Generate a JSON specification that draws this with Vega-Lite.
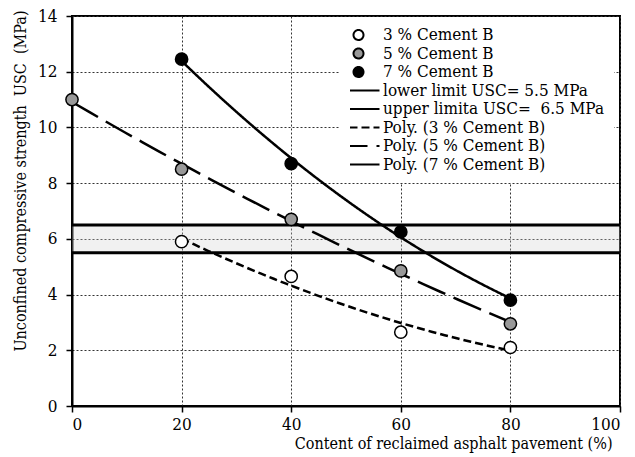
{
  "$schema": "https://vega.github.io/schema/vega-lite/v6.json",
  "width": 548,
  "height": 390,
  "autosize": {"type": "none"},
  "padding": {"left": 72, "top": 16, "right": 15, "bottom": 51},
  "background": "white",
  "datasets": {
    "pts": [
      {"x": 20, "y": 5.9, "s": "3 % Cement B", "trend": "Poly. (3 % Cement B)"},
      {"x": 40, "y": 4.65, "s": "3 % Cement B", "trend": "Poly. (3 % Cement B)"},
      {"x": 60, "y": 2.65, "s": "3 % Cement B", "trend": "Poly. (3 % Cement B)"},
      {"x": 80, "y": 2.1, "s": "3 % Cement B", "trend": "Poly. (3 % Cement B)"},
      {"x": 0, "y": 11.0, "s": "5 % Cement B", "trend": "Poly. (5 % Cement B)"},
      {"x": 20, "y": 8.5, "s": "5 % Cement B", "trend": "Poly. (5 % Cement B)"},
      {"x": 40, "y": 6.7, "s": "5 % Cement B", "trend": "Poly. (5 % Cement B)"},
      {"x": 60, "y": 4.85, "s": "5 % Cement B", "trend": "Poly. (5 % Cement B)"},
      {"x": 80, "y": 2.95, "s": "5 % Cement B", "trend": "Poly. (5 % Cement B)"},
      {"x": 20, "y": 12.45, "s": "7 % Cement B", "trend": "Poly. (7 % Cement B)"},
      {"x": 40, "y": 8.7, "s": "7 % Cement B", "trend": "Poly. (7 % Cement B)"},
      {"x": 60, "y": 6.25, "s": "7 % Cement B", "trend": "Poly. (7 % Cement B)"},
      {"x": 80, "y": 3.8, "s": "7 % Cement B", "trend": "Poly. (7 % Cement B)"}
    ],
    "limits": [
      {"v": 5.5, "s": "lower limit USC= 5.5 MPa"},
      {"v": 6.5, "s": "upper limita USC=\u00a0 6.5 MPa"}
    ],
    "band": [
      {"x0": 0, "x1": 100, "lo": 5.5, "hi": 6.5}
    ]
  },
  "layer": [
    {
      "data": {"name": "band"},
      "mark": {"type": "rect", "fill": "#d0d0d0", "fillOpacity": 0.3},
      "encoding": {
        "x": {"field": "x0", "type": "quantitative"},
        "x2": {"field": "x1"},
        "y": {"field": "lo", "type": "quantitative"},
        "y2": {"field": "hi"}
      }
    },
    {
      "data": {"name": "limits"},
      "mark": {"type": "rule", "color": "black", "strokeWidth": 3},
      "encoding": {
        "y": {"field": "v", "type": "quantitative"},
        "strokeDash": {"field": "s", "type": "nominal"}
      }
    },
    {
      "data": {"name": "pts"},
      "transform": [
        {"regression": "y", "on": "x", "groupby": ["trend"], "method": "poly", "order": 2}
      ],
      "mark": {"type": "line", "color": "black", "strokeWidth": 2.5},
      "encoding": {
        "x": {"field": "x", "type": "quantitative"},
        "y": {"field": "y", "type": "quantitative"},
        "detail": {"field": "trend"},
        "strokeDash": {"field": "trend", "type": "nominal"}
      }
    },
    {
      "data": {"name": "pts"},
      "mark": {"type": "point", "filled": true, "stroke": "black", "strokeWidth": 1.5, "size": 150, "opacity": 1},
      "encoding": {
        "x": {"field": "x", "type": "quantitative"},
        "y": {"field": "y", "type": "quantitative"},
        "shape": {
          "field": "s", "type": "nominal",
          "legend": {"title": null, "encode": {"symbols": {"update": {"stroke": {"value": "black"}, "strokeWidth": {"value": 2}, "opacity": {"value": 1}}}}},
          "scale": {
            "domain": ["3 % Cement B", "5 % Cement B", "7 % Cement B", "lower limit USC= 5.5 MPa", "upper limita USC=\u00a0 6.5 MPa", "Poly. (3 % Cement B)", "Poly. (5 % Cement B)", "Poly. (7 % Cement B)"],
            "range": ["circle", "circle", "circle", "M-4.2,0H4.2", "M-4.2,0H4.2", "M-4.2,0H4.2", "M-4.2,0H4.2", "M-4.2,0H4.2"]
          }
        },
        "fill": {
          "field": "s", "type": "nominal",
          "legend": {"title": null, "encode": {"symbols": {"update": {"stroke": {"value": "black"}, "strokeWidth": {"value": 2}, "opacity": {"value": 1}}}}},
          "scale": {
            "domain": ["3 % Cement B", "5 % Cement B", "7 % Cement B", "lower limit USC= 5.5 MPa", "upper limita USC=\u00a0 6.5 MPa", "Poly. (3 % Cement B)", "Poly. (5 % Cement B)", "Poly. (7 % Cement B)"],
            "range": ["white", "#999999", "black", "transparent", "transparent", "transparent", "transparent", "transparent"]
          }
        }
      }
    }
  ],
  "encoding": {
    "x": {
      "type": "quantitative",
      "scale": {"domain": [0, 100], "nice": false},
      "axis": {"values": [0, 20, 40, 60, 80, 100], "title": "Content of reclaimed asphalt pavement (%)", "titleAnchor": "end", "titleX": 540, "labelPadding": 4, "titlePadding": 3, "titleFontSize": 16}
    },
    "y": {
      "type": "quantitative",
      "scale": {"domain": [0, 14], "nice": false},
      "axis": {"values": [0, 2, 4, 6, 8, 10, 12, 14], "title": "Unconfined compressive strength\u00a0 USC\u00a0 (MPa)", "titleAnchor": "end", "titleY": -6, "labelPadding": 9, "titlePadding": 9, "titleFontSize": 16}
    },
    "strokeDash": {
      "legend": {"title": null, "encode": {"symbols": {"update": {"stroke": {"value": "black"}, "strokeWidth": {"value": 2}, "opacity": {"value": 1}}}}},
      "scale": {
        "domain": ["3 % Cement B", "5 % Cement B", "7 % Cement B", "lower limit USC= 5.5 MPa", "upper limita USC=\u00a0 6.5 MPa", "Poly. (3 % Cement B)", "Poly. (5 % Cement B)", "Poly. (7 % Cement B)"],
        "range": [[1, 0], [1, 0], [1, 0], [1, 0], [1, 0], [8, 4], [30, 9], [1, 0]]
      }
    }
  },
  "config": {
    "font": "DejaVu Serif Condensed",
    "view": {"stroke": "black", "strokeWidth": 2},
    "axis": {
      "labelFont": "DejaVu Serif Condensed",
      "titleFont": "DejaVu Serif Condensed",
      "labelFontSize": 17,
      "titleFontSize": 17,
      "labelColor": "black",
      "titleColor": "black",
      "titleFontWeight": "normal",
      "domainColor": "black",
      "domainWidth": 2,
      "tickColor": "black",
      "tickWidth": 1.5,
      "tickSize": 6,
      "grid": true,
      "gridColor": "#333333",
      "gridDash": [2, 2],
      "gridWidth": 1
    },
    "legend": {
      "orient": "none",
      "legendX": 268,
      "legendY": 1,
      "padding": 10,
      "fillColor": "white",
      "labelFont": "DejaVu Serif Condensed",
      "labelFontSize": 17,
      "labelColor": "black",
      "labelOffset": 16,
      "labelLimit": 400,
      "symbolSize": 100,
      "symbolStrokeWidth": 2,
      "symbolStrokeColor": "black",
      "rowPadding": 1.5,
      "clipHeight": 16
    }
  }
}
